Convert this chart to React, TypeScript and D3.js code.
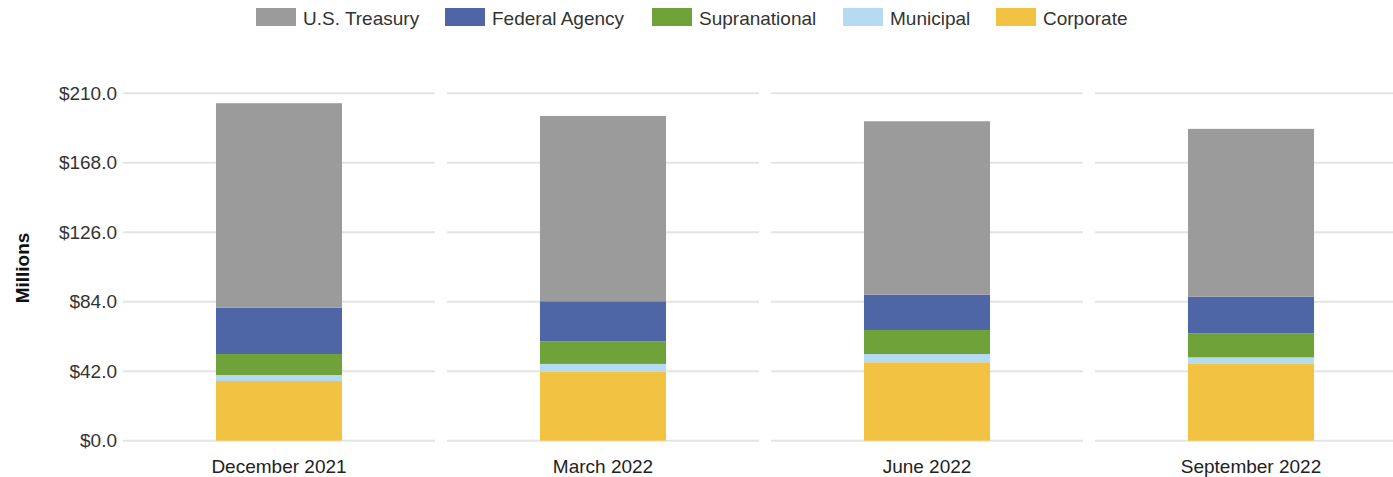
import React from "react";
import * as d3 from "d3";

const categories = ["December 2021", "March 2022", "June 2022", "September 2022"];
const seriesNames = ["Corporate", "Municipal", "Supranational", "Federal Agency", "U.S. Treasury"];
const corporate = [36.1, 41.7, 47.4, 46.4];
const municipal = [3.6, 4.7, 5.0, 4.0];
const supranational = [12.7, 13.7, 14.5, 14.5];
const federalAgency = [28.0, 24.2, 21.4, 22.2];
const usTreasury = [123.6, 112.0, 104.8, 101.4];
const yTicks = [0, 42, 84, 126, 168, 210];
const legendOrder = ["U.S. Treasury", "Federal Agency", "Supranational", "Municipal", "Corporate"];

const colors: Record<string, string> = {
  "U.S. Treasury": "#9b9b9b",
  "Federal Agency": "#4e66a6",
  Supranational: "#6fa33a",
  Municipal: "#b5daf2",
  Corporate: "#f2c343",
};

const W = 1393;
const H = 477;
const FONT = "'Liberation Sans', Arial, sans-serif";

export default function App() {
  const seriesValues: Record<string, number[]> = {
    Corporate: corporate,
    Municipal: municipal,
    Supranational: supranational,
    "Federal Agency": federalAgency,
    "U.S. Treasury": usTreasury,
  };
  const rows = categories.map((c, i) => {
    const r: any = { cat: c };
    seriesNames.forEach((s) => (r[s] = seriesValues[s][i]));
    return r;
  });
  const stacked = d3.stack<any>().keys(seriesNames)(rows);

  const x = d3
    .scaleBand<string>()
    .domain(categories)
    .range([117, 1413])
    .paddingInner(0.611)
    .paddingOuter(0.3055);
  const y = d3.scaleLinear().domain([0, 210]).range([440.7, 93.3]);
  const step = x.step();
  const gridHalf = 156;

  const legendX = [256, 445, 652, 843, 996];

  return (
    <svg
      width={W}
      height={H}
      style={{ position: "absolute", left: 0, top: 0, background: "#fff" }}
      fontFamily={FONT}
    >
      {/* legend */}
      {legendOrder.map((name, i) => (
        <g key={name}>
          <rect x={legendX[i]} y={8} width={40} height={18} fill={colors[name]} />
          <text x={legendX[i] + 47} y={25} fontSize={19} fill="#333">
            {name}
          </text>
        </g>
      ))}

      {/* gridlines */}
      {categories.map((c) => {
        const cx = (x(c) as number) + x.bandwidth() / 2;
        return yTicks.map((t) => (
          <line
            key={c + t}
            x1={cx - gridHalf}
            x2={Math.min(cx + gridHalf, W)}
            y1={y(t)}
            y2={y(t)}
            stroke="#e4e4e4"
            strokeWidth={2}
          />
        ));
      })}

      {/* y tick labels */}
      {yTicks.map((t) => (
        <text
          key={t}
          x={117}
          y={y(t)}
          dy="0.35em"
          textAnchor="end"
          fontSize={19}
          fill="#333"
        >
          {"$" + t.toFixed(1)}
        </text>
      ))}

      {/* y axis title */}
      <text
        transform={`translate(29,268) rotate(-90)`}
        textAnchor="middle"
        fontSize={19}
        fontWeight="bold"
        fill="#111"
      >
        Millions
      </text>

      {/* bars */}
      {stacked.map((layer) =>
        layer.map((d, i) => (
          <rect
            key={layer.key + i}
            x={x(categories[i])}
            width={x.bandwidth()}
            y={y(d[1])}
            height={y(d[0]) - y(d[1])}
            fill={colors[layer.key]}
          />
        ))
      )}

      {/* x labels */}
      {categories.map((c) => (
        <text
          key={c}
          x={(x(c) as number) + x.bandwidth() / 2}
          y={473}
          textAnchor="middle"
          fontSize={19}
          fill="#222"
        >
          {c}
        </text>
      ))}
    </svg>
  );
}
